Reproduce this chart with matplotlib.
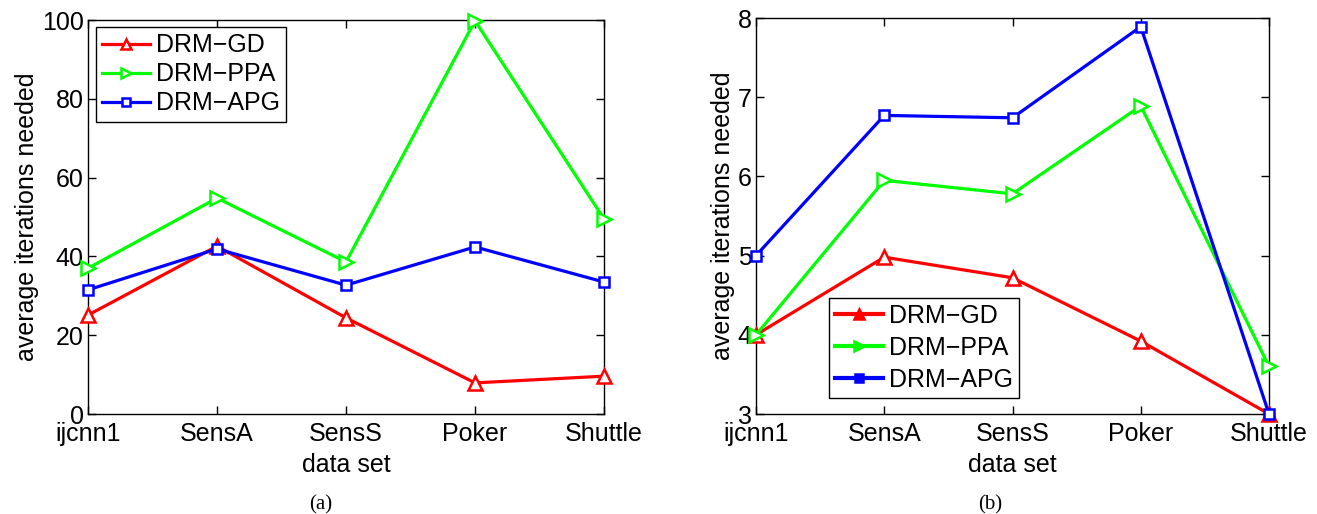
import numpy as np
import matplotlib
matplotlib.use("Agg")
import matplotlib.pyplot as plt

plt.rcParams['font.family'] = ['Liberation Sans', 'DejaVu Sans']

datasets = ["ijcnn1", "SensA", "SensS", "Poker", "Shuttle"]
series_names = ["DRM\u2212GD", "DRM\u2212PPA", "DRM\u2212APG"]

# (a) left panel
gd_a = [25.1, 42.6, 24.4, 7.9, 9.6]
ppa_a = [37.0, 54.8, 38.6, 99.8, 49.5]
apg_a = [31.5, 41.9, 32.7, 42.4, 33.5]

# (b) right panel
gd_b = [4.0, 4.98, 4.72, 3.92, 3.0]
ppa_b = [4.0, 5.95, 5.78, 6.89, 3.6]
apg_b = [5.0, 6.77, 6.74, 7.89, 3.0]

colors = ["#ff0000", "#00ff00", "#0000ff"]
markers = ["^", ">", "s"]
msizes = [10, 10, 7]

fig = plt.figure(figsize=(13.17, 5.14), dpi=100)
ax1 = fig.add_axes([88/1317, 100/514, 516/1317, 394/514])
ax2 = fig.add_axes([756/1317, 100/514, 513/1317, 396/514])

x = np.arange(1, len(datasets) + 1)

def draw(ax, data, ylim, yticks, leg_anchor, leg_fill, leg_space):
    for vals, name, c, m, ms in zip(data, series_names, colors, markers, msizes):
        ax.plot(x, vals, color=c, lw=2.3, marker=m, ms=ms, mfc='white',
                mec=c, mew=1.8, label=name, clip_on=False, zorder=3)
    ax.set_xlim(1, 5)
    ax.set_ylim(*ylim)
    ax.set_yticks(yticks)
    ax.set_xticks(x)
    ax.set_xticklabels(datasets)
    ax.tick_params(direction='in', length=6, width=1, labelsize=18,
                   top=True, right=True, pad=3)
    ax.tick_params(axis='x', pad=6)
    ax.set_xlabel("data set", fontsize=18, labelpad=5)
    ax.set_ylabel("average iterations needed", fontsize=18, labelpad=2)
    for s in ax.spines.values():
        s.set_linewidth(1)
    leg = ax.legend(loc='upper left', bbox_to_anchor=leg_anchor, fontsize=18,
                    handlelength=1.9, fancybox=False, edgecolor='black',
                    framealpha=1, borderpad=0.25, labelspacing=leg_space,
                    handletextpad=0.25, borderaxespad=0, markerscale=0.75)
    leg.get_frame().set_linewidth(1)
    if leg_fill:
        for h, c in zip(leg.get_lines(), colors):
            h.set_markerfacecolor(c)
            h.set_linewidth(3)

draw(ax1, [gd_a, ppa_a, apg_a], (0, 100), [0, 20, 40, 60, 80, 100],
     (0.0155, 0.982), False, 0.2)
draw(ax2, [gd_b, ppa_b, apg_b], (3, 8), [3, 4, 5, 6, 7, 8],
     (0.142, 0.293), True, 0.32)

fig.text(321/1317, 1 - 505/514, "(a)", ha='center', va='center',
         fontsize=15, family='Liberation Serif')
fig.text(990/1317, 1 - 505/514, "(b)", ha='center', va='center',
         fontsize=15, family='Liberation Serif')

fig.savefig("out.png", dpi=100)
